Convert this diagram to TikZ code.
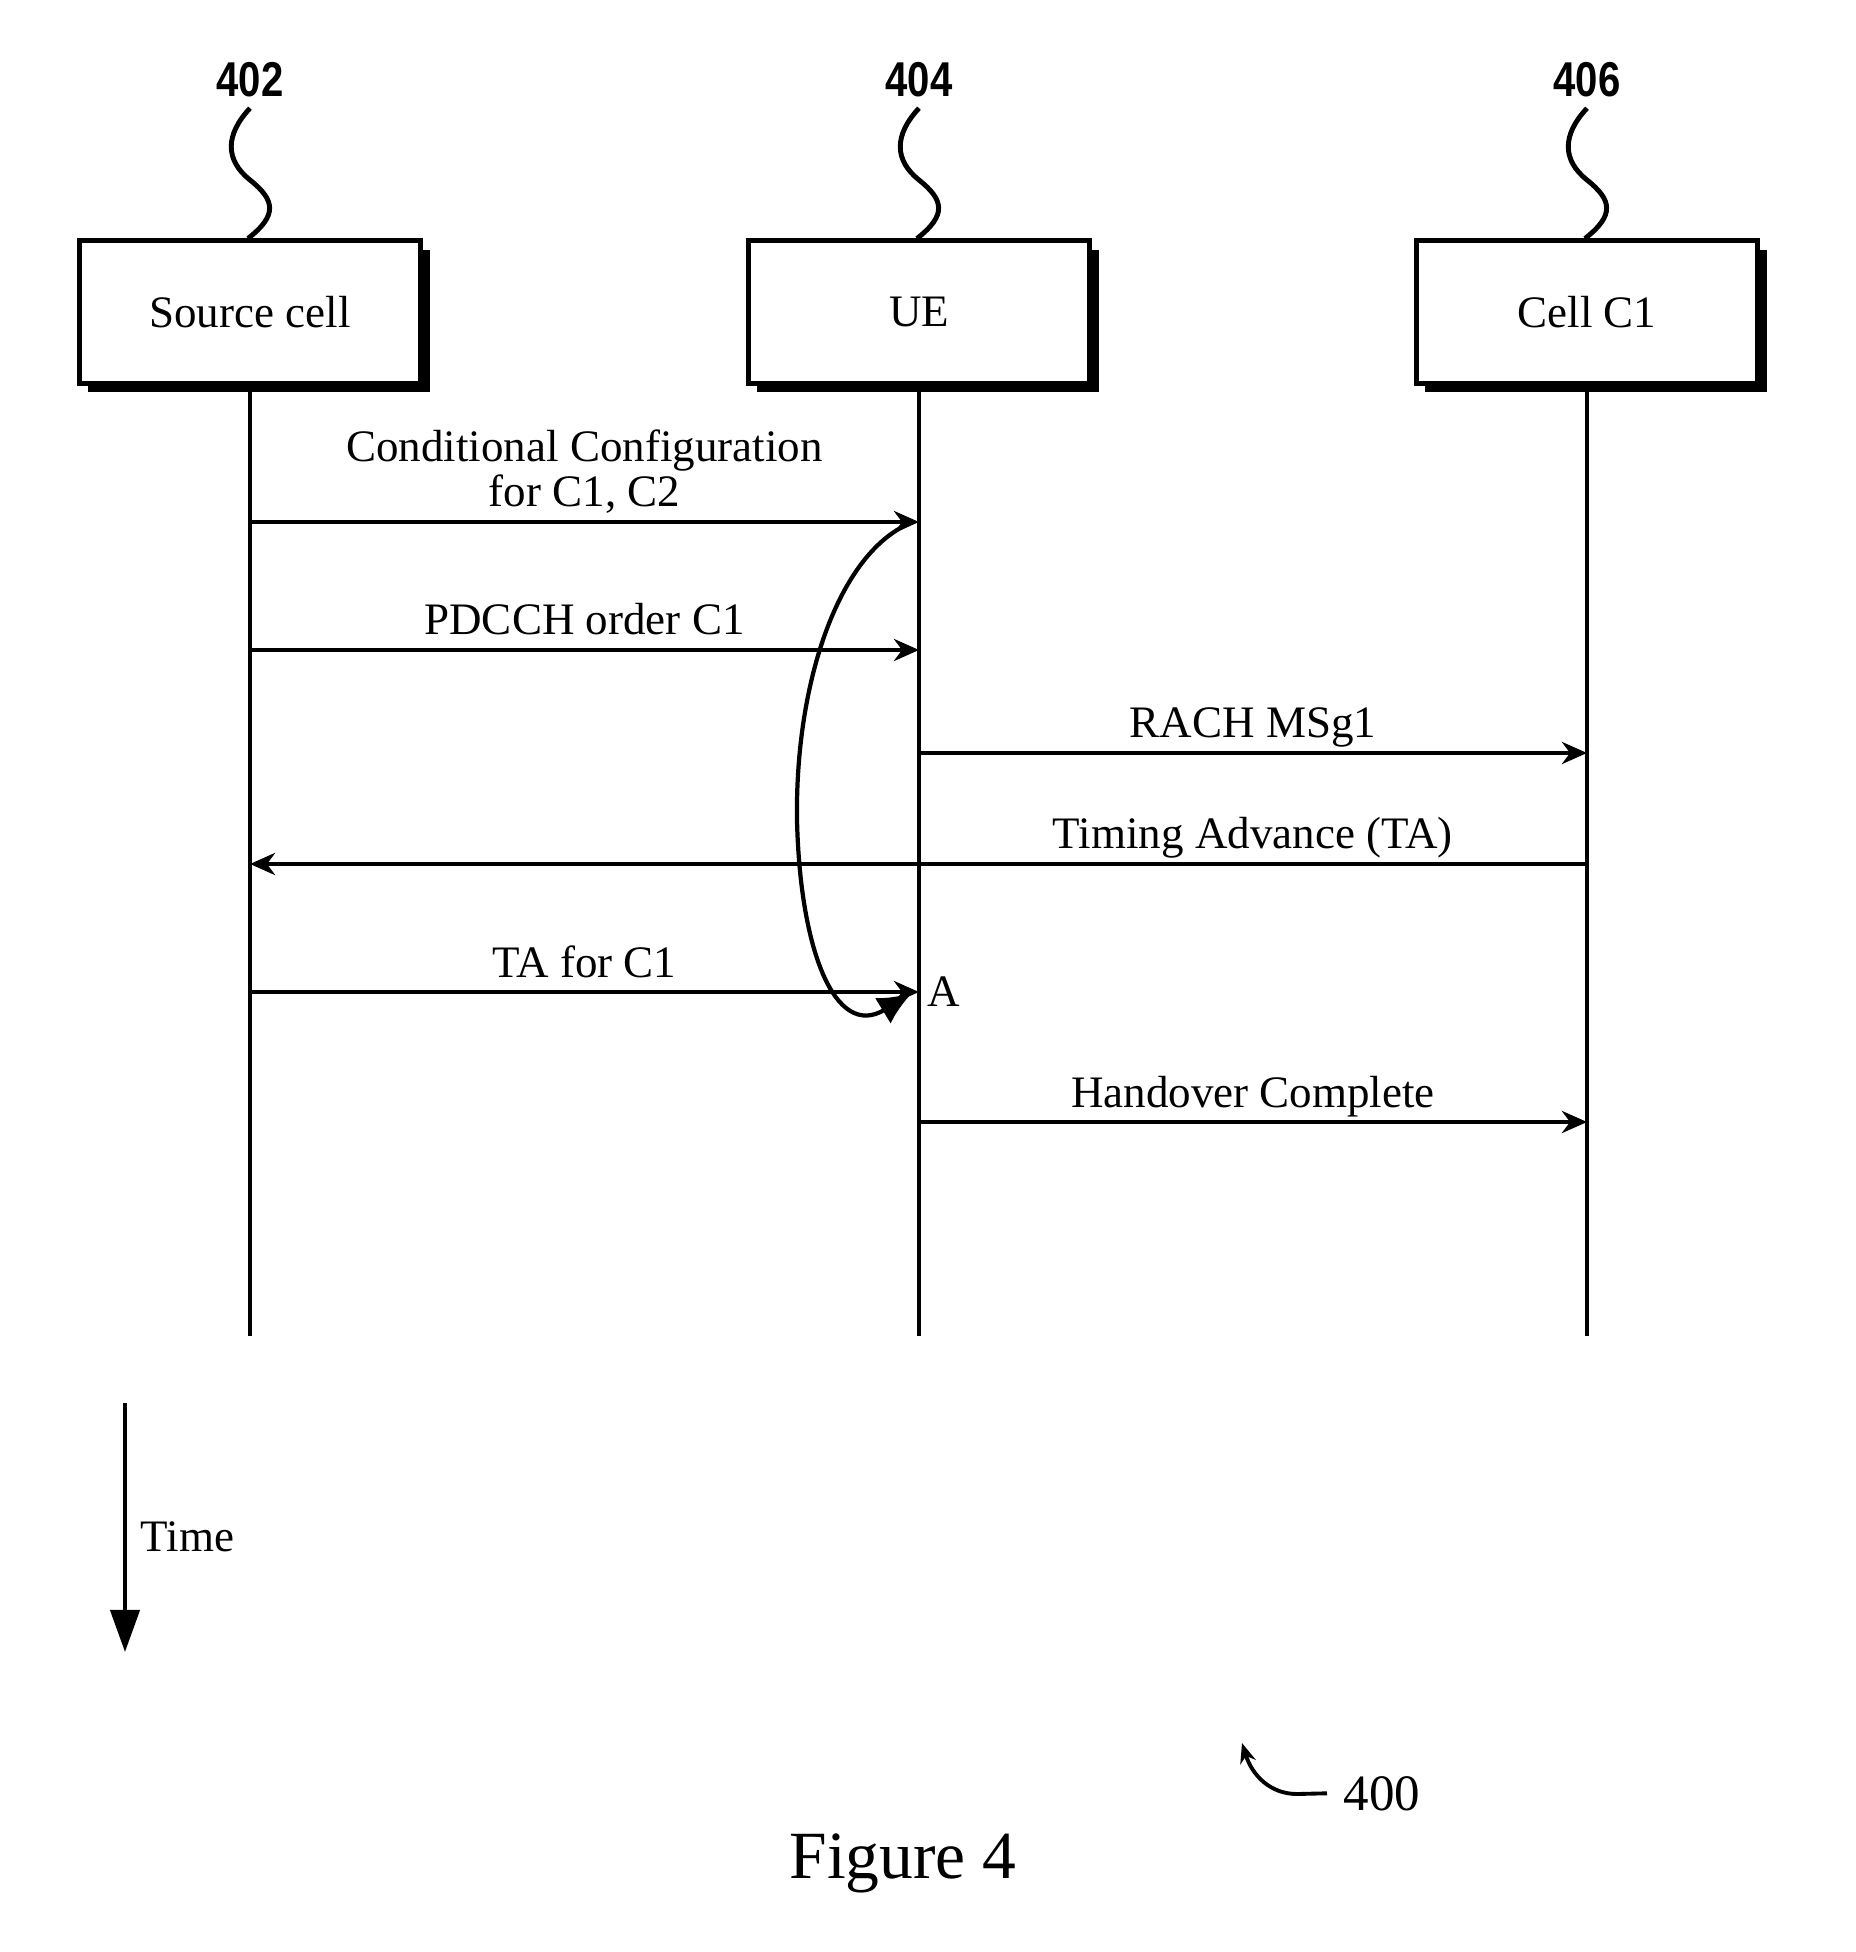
\documentclass[tikz,border=0pt]{standalone}
\usepackage{fontspec}
\setmainfont{Liberation Serif}
\newfontfamily\refnumfont[FakeStretch=0.82]{Liberation Sans}
\usetikzlibrary{arrows.meta,calc,positioning,shadows}

\begin{document}
\begin{tikzpicture}[x=0.01cm, y=-0.01cm, >={Stealth[length=0.25cm, width=0.22cm, inset=0.08cm]},
    font=\fontsize{12.8pt}{12.8pt}\selectfont,
    entity/.style={draw, line width=1.4pt, fill=white, minimum width=3.41cm, minimum height=1.42cm,
        drop shadow={shadow xshift=0.09cm, shadow yshift=-0.09cm, opacity=1, fill=black}},
    lifeline/.style={line width=1.4pt},
    msg/.style={->, line width=1.2pt},
    msglabel/.style={anchor=base, yshift=0.15cm, inner sep=0pt, align=center},
    reflabel/.style={anchor=base, inner sep=0.1cm, font=\refnumfont\bfseries\fontsize{13.9pt}{14pt}\selectfont},
    squiggle/.style={line width=1.4pt}]
    \fill[white] (0,0) rectangle (1855,1952);
    \useasboundingbox (0,0) rectangle (1855,1952);

    % Entities, reference numbers and lifelines
    \foreach \name/\x/\num/\txt in {src/250/402/Source cell, ue/919/404/UE, cell/1587/406/Cell C1} {
        \node[entity] (\name) at (\x,312) {\txt};
        \node[reflabel] (\name-num) at (\x,97) {\num};
        \draw[squiggle] (\name-num.south) .. controls (\x-25,135) and (\x-25,160) .. (\x,180)
            .. controls (\x+25,200) and (\x+28,215) .. ([xshift=-0.02cm]\name.north);
        \draw[lifeline] (\name.south) -- (\x,1336) coordinate (\name-end);
    }

    % Messages
    \draw[msg] (src |- 0,522) -- (ue |- 0,522) node[msglabel, midway] {Conditional Configuration\\for C1, C2};
    \draw[msg] (src |- 0,650) -- (ue |- 0,650) node[msglabel, midway] {PDCCH order C1};
    \draw[msg] (ue |- 0,753) -- (cell |- 0,753) node[msglabel, midway] {RACH MSg1};
    \draw[msg] (cell |- 0,864) -- (src |- 0,864) node[msglabel, pos=0.25] {Timing Advance (TA)};
    \draw[msg] (src |- 0,992) -- (ue |- 0,992) node[msglabel, midway] {TA for C1};
    \draw[msg] (ue |- 0,1122) -- (cell |- 0,1122) node[msglabel, midway] {Handover Complete};
    \node[anchor=west, inner sep=0.08cm] (mark-a) at (ue |- 0,992) {A};

    % Curved arrow from configuration to TA
    \draw[line width=1.2pt, -{Latex[length=0.34cm, width=0.3cm]}] (913,522)
        .. controls (840,550) and (795,680) .. (797,820)
        .. controls (800,950) and (835,1040) .. (912,993);

    % Time axis
    \coordinate (time-top) at (125,1403);
    \coordinate (time-end) at (125,1652);
    \draw[line width=1.2pt, -{Triangle[length=0.42cm, width=0.29cm]}] (time-top) -- (time-end);
    \node[anchor=base west, inner sep=0pt] (time) at (140,1551) {Time};

    % Figure number
    \node[anchor=base west, inner sep=0pt, font=\fontsize{14.5pt}{14.5pt}\selectfont] (fig-num) at (1343,1810) {400};
    \draw[line width=1.1pt, -{Stealth[length=0.2cm, width=0.16cm]}] ([xshift=-0.16cm]fig-num.west) -- (1297,1794)
        .. controls (1270,1794) and (1252,1775) .. (1242,1743);
    \node[anchor=base, inner sep=0pt, font=\fontsize{19.2pt}{19.2pt}\selectfont] (caption) at (903,1878) {Figure 4};
\end{tikzpicture}
\end{document}
